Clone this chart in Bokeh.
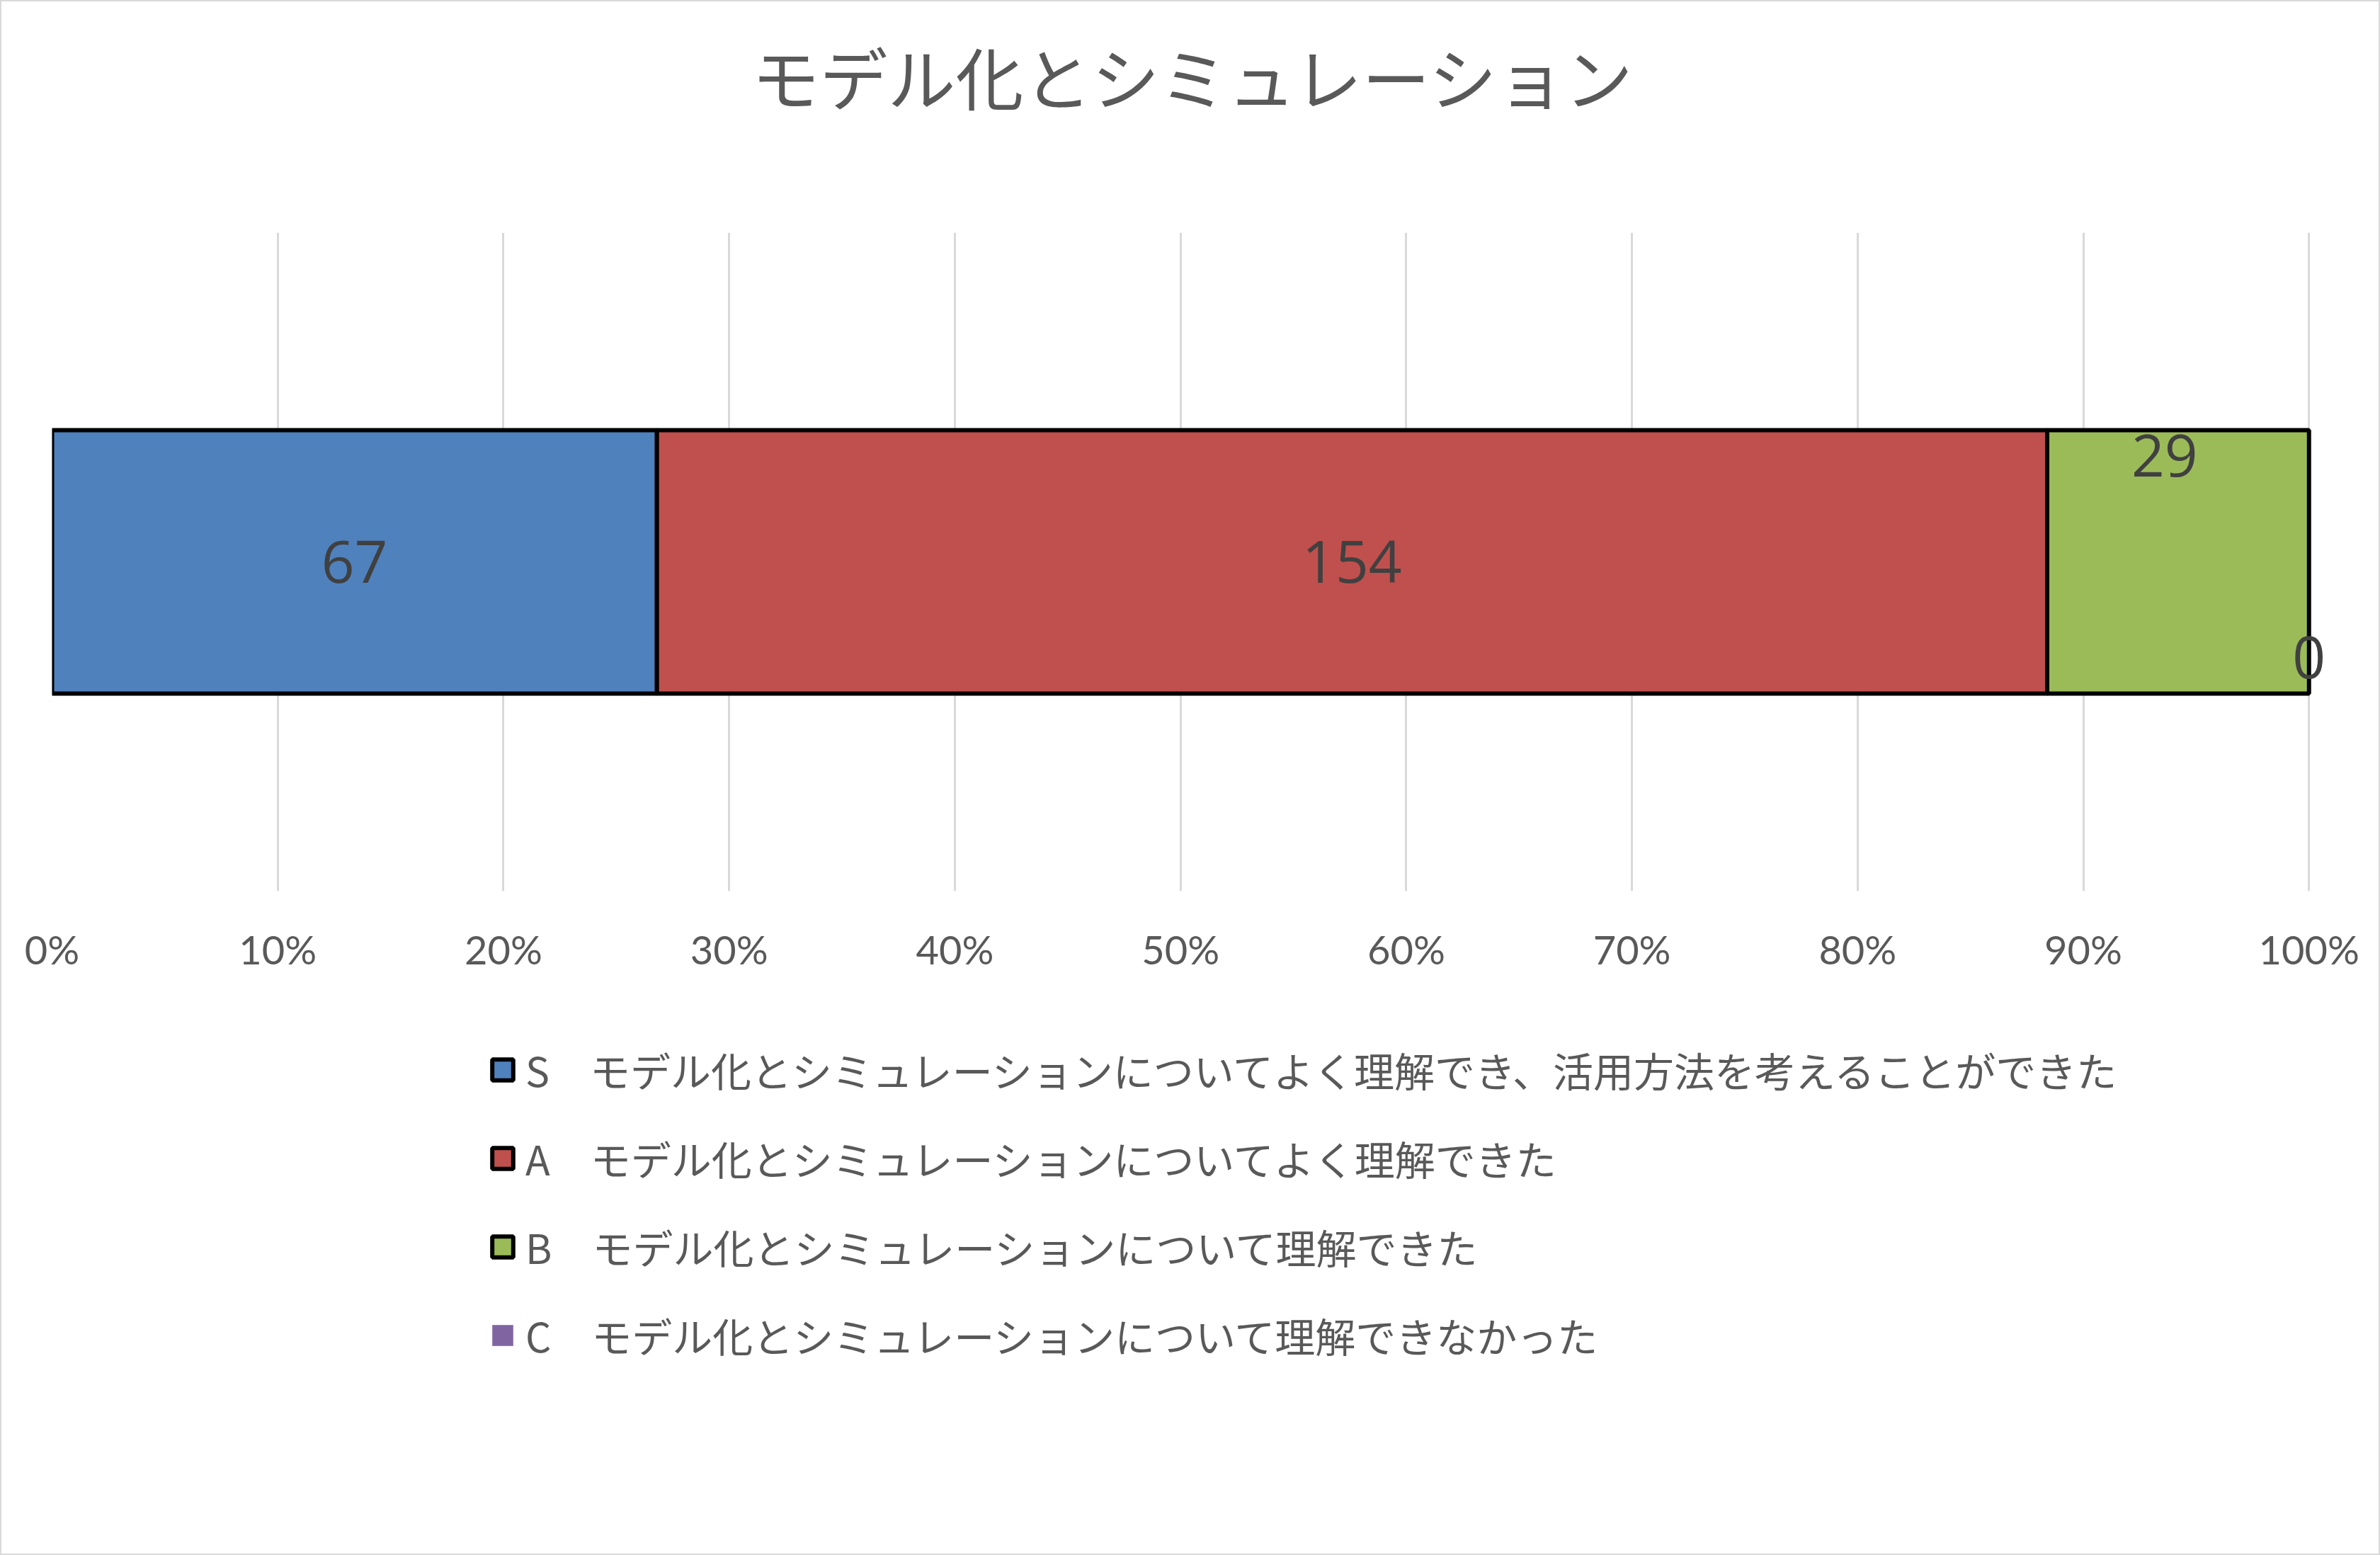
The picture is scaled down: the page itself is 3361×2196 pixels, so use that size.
from bokeh.plotting import figure
from bokeh.layouts import column
from bokeh.models import Range1d, ColumnDataSource, Legend, LegendItem, FixedTicker, NumeralTickFormatter, Title
from bokeh.embed import file_html
from bokeh.resources import INLINE
from bokeh.core.properties import value

# ---------------- data ----------------
title_text = "モデル化とシミュレーション"
categories = ["モデル化とシミュレーション"]
series_keys = ["S", "A", "B", "C"]
series_labels = [
    "S　モデル化とシミュレーションについてよく理解でき、活用方法を考えることができた",
    "A　モデル化とシミュレーションについてよく理解できた",
    "B　モデル化とシミュレーションについて理解できた",
    "C　モデル化とシミュレーションについて理解できなかった",
]
counts = [67, 154, 29, 0]
colors = ["#4F81BD", "#C0504D", "#9BBB59", "#8064A2"]
x_ticks = [0.0, 0.1, 0.2, 0.3, 0.4, 0.5, 0.6, 0.7, 0.8, 0.9, 1.0]

# ---------------- layout constants ----------------
BORDER = 2
W, H = 3361 - 2 * BORDER, 2196 - 2 * BORDER
H1 = 1418                      # chart part; the legend part fills the rest
FRAME_L, X100, FRAME_T, FRAME_B = 71, 3258, 326, 1256
PAD = 0.02                     # room right of 100% so the "0" label is not clipped
FRAME_R = FRAME_L + (X100 - FRAME_L) * (1 + PAD)
FRAME_H = FRAME_B - FRAME_T
BAR_H = 0.4
CAT_Y = 0.5
label_shift_px = [0, 0, 150, -135]   # Excel-style manual label placement (up positive)
label_dx = [0, 0, -0.006, 0]

p = figure(width=W, height=H1, output_backend="svg", toolbar_location=None,
           x_range=Range1d(0, 1 + PAD), y_range=Range1d(0, 1),
           min_border_left=FRAME_L, min_border_right=int(round(W - FRAME_R)),
           min_border_top=FRAME_T, min_border_bottom=H1 - FRAME_B,
           background_fill_color="white", border_fill_color="white")
p.outline_line_color = None

p.title.text = title_text
p.title.align = "left"
p.title.offset = 988
p.title.text_font = "Noto Sans CJK JP"
p.title.text_font_size = "96px"
p.title.text_font_style = "normal"
p.title.text_color = "#595959"
p.title.standoff = 10
# blank spacer between the title and the plot area
p.add_layout(Title(text=" ", text_font_size="1px", standoff=145), "above")

# legend figure (no axes; its frame is the whole area)
H2 = H - H1
q = figure(width=W, height=H2, output_backend="svg", toolbar_location=None,
           x_range=Range1d(0, 1), y_range=Range1d(0, 1),
           min_border=0, background_fill_color="white", border_fill_color="white")
q.outline_line_color = None
q.axis.visible = False
q.grid.visible = False

total = float(sum(counts))
left = 0.0
items = []
lab_x, lab_y, lab_t = [], [], []
nan = float("nan")
for i, (k, lbl, c, col) in enumerate(zip(series_keys, series_labels, counts, colors)):
    frac = c / total
    right = left + frac
    style = dict(fill_color=col, line_color="black" if c > 0 else None, line_width=6)
    p.hbar(y=[CAT_Y], left=[left], right=[right], height=BAR_H, **style)
    # legend-only copy (nothing drawn in the legend panel itself)
    rq = q.hbar(y=[nan], left=[nan], right=[nan], height=BAR_H, **style)
    items.append(LegendItem(label=lbl, renderers=[rq]))
    lab_x.append((left + right) / 2 + label_dx[i])
    lab_y.append(CAT_Y + label_shift_px[i] / FRAME_H)
    lab_t.append(str(c))
    left = right

src = ColumnDataSource(dict(x=lab_x, y=lab_y, t=lab_t))
p.text(x="x", y="y", text="t", source=src, text_align="center", text_baseline="middle",
       text_font=value("Open Sans"), text_font_size="82px", text_color="#404040")

p.xaxis.ticker = FixedTicker(ticks=x_ticks)
p.xaxis.formatter = NumeralTickFormatter(format="0%")
p.xaxis.axis_line_color = None
p.xaxis.major_tick_line_color = None
p.xaxis.minor_tick_line_color = None
p.xaxis.major_label_text_font = "Lato"
p.xaxis.major_label_text_font_size = "56px"
p.xaxis.major_label_text_color = "#595959"
p.xaxis.major_label_standoff = 42
p.yaxis.visible = False
p.xgrid.grid_line_color = "#D9D9D9"
p.xgrid.grid_line_width = 3
p.ygrid.grid_line_color = None

legend = Legend(items=items, location=(618, 268), orientation="vertical",
                label_text_font="Noto Sans CJK JP", label_text_font_size="57px",
                label_text_color="#595959", glyph_width=37, glyph_height=37,
                label_standoff=14, label_height=64, spacing=43, padding=0, margin=0,
                border_line_color=None, background_fill_alpha=0)
q.add_layout(legend, "center")

layout = column(p, q, spacing=0,
                styles={"border": f"{BORDER}px solid #D9D9D9", "background-color": "white"})
open("out.html", "w").write(file_html(layout, INLINE))
